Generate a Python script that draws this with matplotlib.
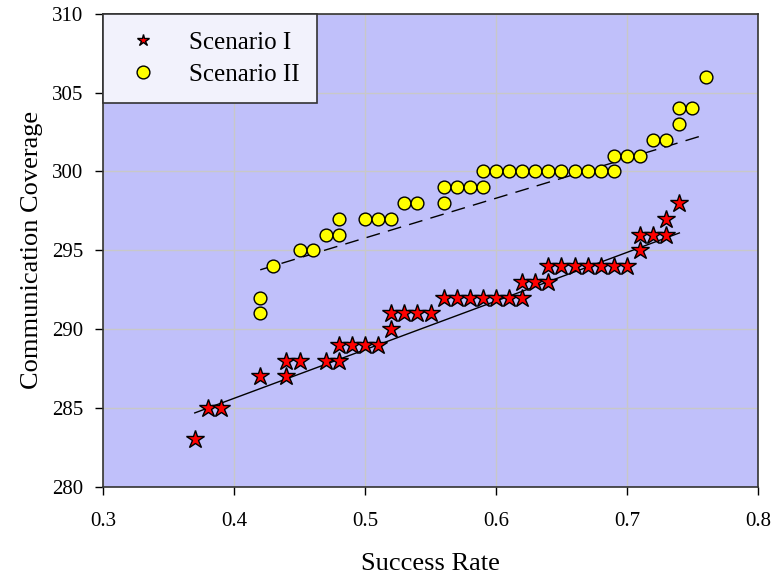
import numpy as np
import matplotlib
matplotlib.use("Agg")
import matplotlib.pyplot as plt

plt.rcParams['font.family'] = ['Liberation Serif', 'DejaVu Serif']

# Scenario I (stars)
s1_x = [0.37, 0.38, 0.39, 0.42, 0.44, 0.44, 0.45, 0.47, 0.48, 0.48, 0.49, 0.50, 0.51,
        0.52, 0.52, 0.53, 0.54, 0.55, 0.56, 0.57, 0.58, 0.59, 0.60, 0.61, 0.62, 0.62,
        0.63, 0.64, 0.64, 0.65, 0.66, 0.67, 0.68, 0.69, 0.70, 0.71, 0.71, 0.72, 0.73,
        0.73, 0.74]
s1_y = [283, 285, 285, 287, 287, 288, 288, 288, 288, 289, 289, 289, 289,
        290, 291, 291, 291, 291, 292, 292, 292, 292, 292, 292, 292, 293,
        293, 293, 294, 294, 294, 294, 294, 294, 294, 295, 296, 296, 296,
        297, 298]

# Scenario II (circles)
s2_x = [0.42, 0.42, 0.43, 0.45, 0.46, 0.47, 0.48, 0.48, 0.50, 0.51, 0.52, 0.53, 0.54,
        0.56, 0.56, 0.57, 0.58, 0.59, 0.59, 0.60, 0.61, 0.62, 0.63, 0.64, 0.65, 0.66,
        0.67, 0.68, 0.69, 0.69, 0.70, 0.71, 0.72, 0.73, 0.74, 0.74, 0.75, 0.76]
s2_y = [291, 292, 294, 295, 295, 296, 296, 297, 297, 297, 297, 298, 298,
        298, 299, 299, 299, 299, 300, 300, 300, 300, 300, 300, 300, 300,
        300, 300, 300, 301, 301, 301, 302, 302, 303, 304, 304, 306]

# trend lines (end points)
trend1_x = [0.37, 0.74]
trend1_y = [284.68, 296.1]
trend2_x = [0.42, 0.76]
trend2_y = [293.76, 302.34]

x_ticks = [0.3, 0.4, 0.5, 0.6, 0.7, 0.8]
y_ticks = [280, 285, 290, 295, 300, 305, 310]

fig = plt.figure(figsize=(7.75, 5.78), dpi=100)
ax = fig.add_axes([0.133, 0.158, 0.845, 0.818])
ax.set_facecolor('#C0C0FA')

ax.grid(True, color='#C8C8C8', linewidth=1.0, zorder=0)
ax.set_axisbelow(True)

ax.plot(trend1_x, trend1_y, color='black', linewidth=1.0, linestyle='-', zorder=2)
ax.plot(trend2_x, trend2_y, color='black', linewidth=1.0, linestyle=(0, (10, 6)), zorder=2)

ax.plot(s1_x, s1_y, linestyle='none', marker='*', markersize=13.5, markerfacecolor='red',
        markeredgecolor='black', markeredgewidth=1.0, label='Scenario I', zorder=3)
ax.plot(s2_x, s2_y, linestyle='none', marker='o', markersize=9.2, markerfacecolor='yellow',
        markeredgecolor='black', markeredgewidth=1.0, label='Scenario II', zorder=3)

ax.set_xlim(0.3, 0.8)
ax.set_ylim(280, 310)
ax.set_xticks(x_ticks)
ax.set_xticklabels([str(t) for t in x_ticks])
ax.set_yticks(y_ticks)
ax.tick_params(direction='out', length=6, width=1, colors='black', labelsize=15, pad=8)
ax.tick_params(axis='x', pad=12)
for sp in ax.spines.values():
    sp.set_color('#333333')
    sp.set_linewidth(1.2)

ax.set_xlabel('Success Rate', fontsize=19, labelpad=16)
ax.set_ylabel('Communication Coverage', fontsize=19, labelpad=7)

leg = ax.legend(loc='upper left', bbox_to_anchor=(0.0, 1.0), borderaxespad=0,
                fontsize=18, frameon=True, fancybox=False, shadow=False,
                handletextpad=0.95, borderpad=0.7, labelspacing=0.38, handlelength=1.8)
leg.get_frame().set_facecolor('#F2F2FC')
leg.get_frame().set_edgecolor('#333333')
leg.get_frame().set_alpha(1)
leg.get_frame().set_linewidth(1.2)
leg.legend_handles[0].set_markersize(9)

fig.savefig('out.png', dpi=100)
